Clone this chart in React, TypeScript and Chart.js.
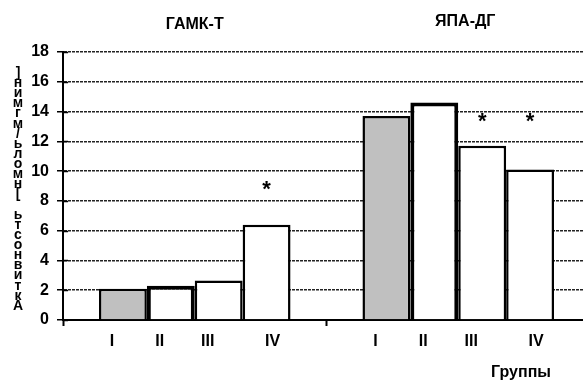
import React, { useEffect, useRef } from "react";
import { Chart, registerables } from "chart.js";

Chart.register(...registerables);

// ---- data ----
const categories = ["ГАМК-Т", "ЯПА-ДГ"];
const groupLabels = ["I", "II", "III", "IV"];
const seriesI = [2.1, 13.7];
const seriesII = [2.3, 14.6];
const seriesIII = [2.65, 11.7];
const seriesIV = [6.4, 10.1];
const yMin = 0;
const yMax = 18;
const yStep = 2;
// significance marks (*): which series / category, and the level at which it is drawn
const starSeries = [3, 2, 3];
const starCategory = [0, 1, 1];
const starLevel = [9, 13.6, 13.6];
const yTitle = "Активность [нмоль/мгмин]";
const xTitle = "Группы";

const FONT = "'Liberation Sans', Arial, sans-serif";

export default function App() {
  const ref = useRef<HTMLCanvasElement | null>(null);

  useEffect(() => {
    const canvas = ref.current;
    if (!canvas) return;

    const fills = ["#c0c0c0", "#ffffff", "#ffffff", "#ffffff"];
    const borders = [2.5, 4, 2.5, 2.5];
    const allSeries = [seriesI, seriesII, seriesIII, seriesIV];
    const romanOffsets = [-11, -11, -11, 6];
    const titleOffsets = [0, 7];
    const titleY = [25, 22];

    const overlay = {
      id: "overlay",
      afterDraw(chart: any) {
        const ctx = chart.ctx;
        const xs = chart.scales.x;
        const ys = chart.scales.y;
        const area = chart.chartArea;
        ctx.save();
        ctx.fillStyle = "#000";
        ctx.strokeStyle = "#000";

        // inner half of the cross tick marks on the y axis
        ctx.lineWidth = 1.5;
        for (let v = yMin; v <= yMax; v += yStep) {
          const y = Math.round(ys.getPixelForValue(v)) + 0.5;
          ctx.beginPath();
          ctx.moveTo(area.left, y);
          ctx.lineTo(area.left + 5, y);
          ctx.stroke();
        }

        // category titles above the plot
        ctx.font = `bold 16px ${FONT}`;
        ctx.textAlign = "center";
        ctx.textBaseline = "middle";
        categories.forEach((c, i) => {
          ctx.fillText(c, xs.getPixelForValue(i) + titleOffsets[i], titleY[i]);
        });

        // roman group labels under each bar
        allSeries.forEach((_, d) => {
          const meta = chart.getDatasetMeta(d);
          meta.data.forEach((bar: any) => {
            ctx.fillText(groupLabels[d], bar.x + romanOffsets[d], area.bottom + 22);
          });
        });

        // asterisks
        ctx.font = `bold 22px ${FONT}`;
        starSeries.forEach((s, k) => {
          const bar: any = chart.getDatasetMeta(s).data[starCategory[k]];
          ctx.fillText("*", bar.x, ys.getPixelForValue(starLevel[k]) + 4);
        });

        // x title
        ctx.font = `bold 16px ${FONT}`;
        ctx.fillText(xTitle, 521, 373);

        // y title: characters stacked upright, reading bottom to top
        ctx.font = `bold 14px ${FONT}`;
        const chars = Array.from(yTitle).reverse();
        const top = 73;
        const bottom = 306;
        const step = (bottom - top) / (chars.length - 1);
        chars.forEach((ch, i) => {
          ctx.fillText(ch, 18, top + i * step);
        });
        ctx.restore();
      },
    };

    const chart = new Chart(canvas, {
      type: "bar",
      data: {
        labels: categories,
        datasets: allSeries.map((s, i) => ({
          label: groupLabels[i],
          data: s,
          backgroundColor: fills[i],
          borderColor: "#000",
          borderWidth: borders[i],
          categoryPercentage: 0.727,
          barPercentage: 1.0,
        })),
      },
      options: {
        animation: false,
        responsive: false,
        events: [],
        layout: { padding: { top: 52, right: 10, left: 0, bottom: 0 } },
        plugins: {
          legend: { display: false },
          tooltip: { enabled: false },
          title: { display: false },
        },
        scales: {
          x: {
            grid: {
              display: true,
              drawOnChartArea: false,
              drawTicks: true,
              tickLength: 6,
              tickColor: "#000",
              tickWidth: 2,
              offset: true,
            },
            border: { display: true, color: "#000", width: 2 },
            ticks: { display: false },
            afterFit: (scale: any) => {
              scale.height = 63;
            },
          },
          y: {
            min: yMin,
            max: yMax,
            ticks: {
              stepSize: yStep,
              color: "#000",
              padding: 8,
              font: { family: FONT, size: 16, weight: "bold" },
            },
            grid: {
              color: "#222",
              lineWidth: 1.5,
              tickLength: 6,
              tickColor: "#000",
              tickWidth: 1.5,
            },
            border: { display: true, color: "#000", width: 2, dash: [3, 1] },
            afterFit: (scale: any) => {
              scale.width = 63;
            },
          },
        },
      },
      plugins: [overlay],
    });

    return () => chart.destroy();
  }, []);

  return (
    <div
      style={{
        position: "fixed",
        left: 0,
        top: 0,
        width: 583,
        height: 383,
        overflow: "hidden",
        background: "#fff",
      }}
    >
      <canvas ref={ref} width={600} height={383} style={{ width: 600, height: 383, display: "block" }} />
    </div>
  );
}
